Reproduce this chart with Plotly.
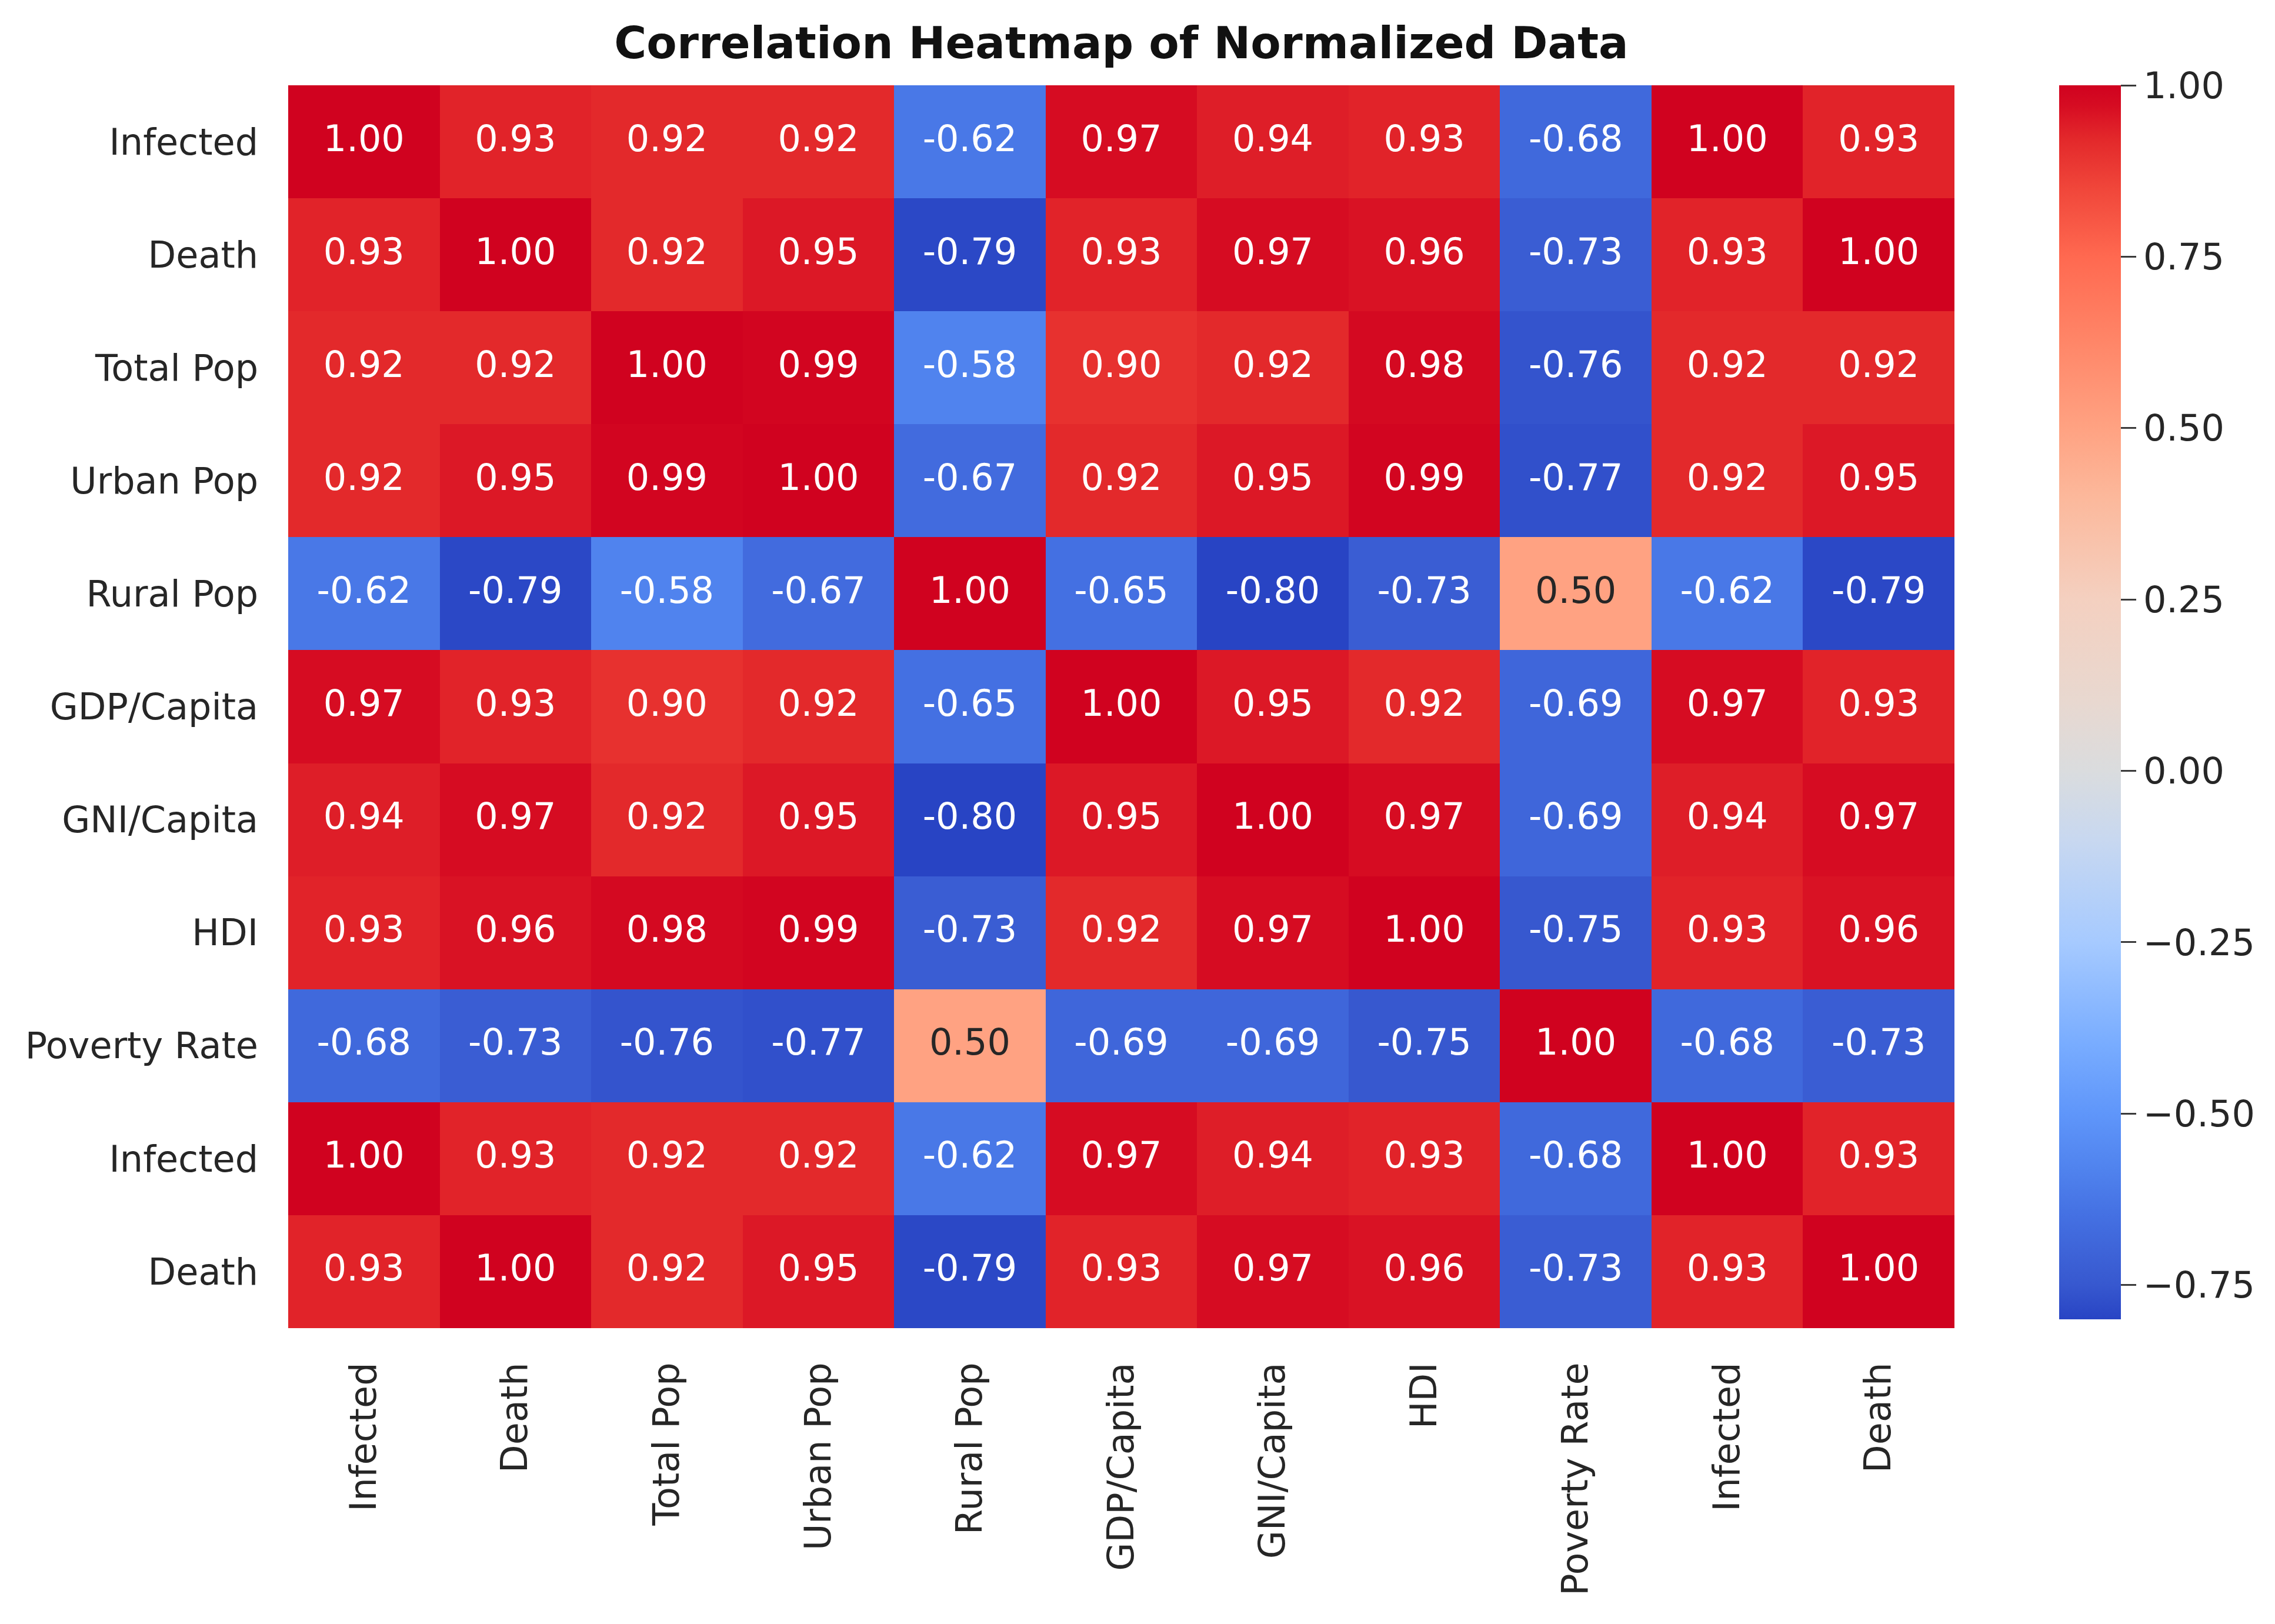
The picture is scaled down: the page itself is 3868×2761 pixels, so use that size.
import plotly.graph_objects as go

labels = ["Infected", "Death", "Total Pop", "Urban Pop", "Rural Pop", "GDP/Capita",
          "GNI/Capita", "HDI", "Poverty Rate", "Infected", "Death"]

row_infected = [1.00, 0.93, 0.92, 0.92, -0.62, 0.97, 0.94, 0.93, -0.68, 1.00, 0.93]
row_death = [0.93, 1.00, 0.92, 0.95, -0.79, 0.93, 0.97, 0.96, -0.73, 0.93, 1.00]
row_total_pop = [0.92, 0.92, 1.00, 0.99, -0.58, 0.90, 0.92, 0.98, -0.76, 0.92, 0.92]
row_urban_pop = [0.92, 0.95, 0.99, 1.00, -0.67, 0.92, 0.95, 0.99, -0.77, 0.92, 0.95]
row_rural_pop = [-0.62, -0.79, -0.58, -0.67, 1.00, -0.65, -0.80, -0.73, 0.50, -0.62, -0.79]
row_gdp = [0.97, 0.93, 0.90, 0.92, -0.65, 1.00, 0.95, 0.92, -0.69, 0.97, 0.93]
row_gni = [0.94, 0.97, 0.92, 0.95, -0.80, 0.95, 1.00, 0.97, -0.69, 0.94, 0.97]
row_hdi = [0.93, 0.96, 0.98, 0.99, -0.73, 0.92, 0.97, 1.00, -0.75, 0.93, 0.96]
row_poverty = [-0.68, -0.73, -0.76, -0.77, 0.50, -0.69, -0.69, -0.75, 1.00, -0.68, -0.73]
row_infected2 = [1.00, 0.93, 0.92, 0.92, -0.62, 0.97, 0.94, 0.93, -0.68, 1.00, 0.93]
row_death2 = [0.93, 1.00, 0.92, 0.95, -0.79, 0.93, 0.97, 0.96, -0.73, 0.93, 1.00]

z = [row_infected, row_death, row_total_pop, row_urban_pop, row_rural_pop, row_gdp,
     row_gni, row_hdi, row_poverty, row_infected2, row_death2]

cbar_ticks = [-0.75, -0.50, -0.25, 0.00, 0.25, 0.50, 0.75, 1.00]

ZMIN, ZMAX = -0.80, 1.00

# saturated coolwarm-like colour stops (value, rgb)
stops = [
    (-0.80, (40, 68, 196)),
    (-0.75, (55, 88, 207)),
    (-0.70, (62, 100, 216)),
    (-0.65, (68, 112, 226)),
    (-0.58, (80, 131, 238)),
    (-0.50, (95, 150, 250)),
    (-0.40, (120, 172, 255)),
    (-0.25, (166, 202, 255)),
    (-0.10, (200, 216, 240)),
    (0.00, (218, 220, 222)),
    (0.10, (232, 216, 208)),
    (0.25, (244, 208, 192)),
    (0.40, (252, 184, 155)),
    (0.50, (255, 162, 130)),
    (0.62, (255, 135, 105)),
    (0.75, (255, 105, 80)),
    (0.85, (240, 70, 58)),
    (0.92, (227, 41, 43)),
    (0.95, (220, 24, 38)),
    (0.97, (214, 12, 34)),
    (1.00, (208, 2, 31)),
]
colorscale = [[(v - ZMIN) / (ZMAX - ZMIN), "rgb(%d,%d,%d)" % c] for v, c in stops]

n = len(labels)
idx = list(range(n))

fig = go.Figure()
fig.add_trace(go.Heatmap(
    z=z, x=idx, y=idx, zmin=ZMIN, zmax=ZMAX, colorscale=colorscale,
    hoverinfo="skip",
    colorbar=dict(
        x=1.0629, xanchor="left", xpad=0, y=1.0, yanchor="top", ypad=0,
        len=0.993, lenmode="fraction", thickness=105, outlinewidth=0,
        tickvals=cbar_ticks,
        ticktext=[("\u2212%.2f" % -t) if t < 0 else "%.2f" % t for t in cbar_ticks],
        ticks="outside", ticklen=26, tickwidth=3, tickcolor="#3a3a3a",
        tickfont=dict(family="DejaVu Sans", size=62, color="#262626"),
    ),
))

tx, ty, tt, tc = [], [], [], []
for i in range(n):
    for j in range(n):
        v = z[i][j]
        tx.append(j)
        ty.append(i)
        tt.append("%.2f" % v)
        tc.append("#262626" if 0.2 < v < 0.7 else "#ffffff")

fig.add_trace(go.Scatter(
    x=tx, y=ty, text=tt, mode="text", hoverinfo="skip", showlegend=False,
    textfont=dict(family="DejaVu Sans", size=62, color=tc),
))

fig.update_layout(
    width=3868, height=2761,
    margin=dict(l=482, r=553, t=137, b=511),
    paper_bgcolor="white", plot_bgcolor="white",
    showlegend=False,
    title=dict(
        text="<b>Correlation Heatmap of Normalized Data</b>",
        x=0.5, xref="paper", xanchor="center",
        y=1 - 65 / 2761, yref="container", yanchor="middle",
        font=dict(family="DejaVu Sans", size=75, color="#111111"),
    ),
    xaxis=dict(
        tickvals=idx, ticktext=labels, tickangle=-90, range=[-0.5, n - 0.5],
        showgrid=False, zeroline=False, showline=False, ticks="",
        ticklabelstandoff=45,
        tickfont=dict(family="DejaVu Sans", size=62, color="#262626"),
    ),
    yaxis=dict(
        tickvals=idx, ticktext=labels, range=[n - 0.5, -0.5],
        showgrid=False, zeroline=False, showline=False, ticks="",
        ticklabelstandoff=50,
        tickfont=dict(family="DejaVu Sans", size=62, color="#262626"),
    ),
)

fig.write_html("out.html")
